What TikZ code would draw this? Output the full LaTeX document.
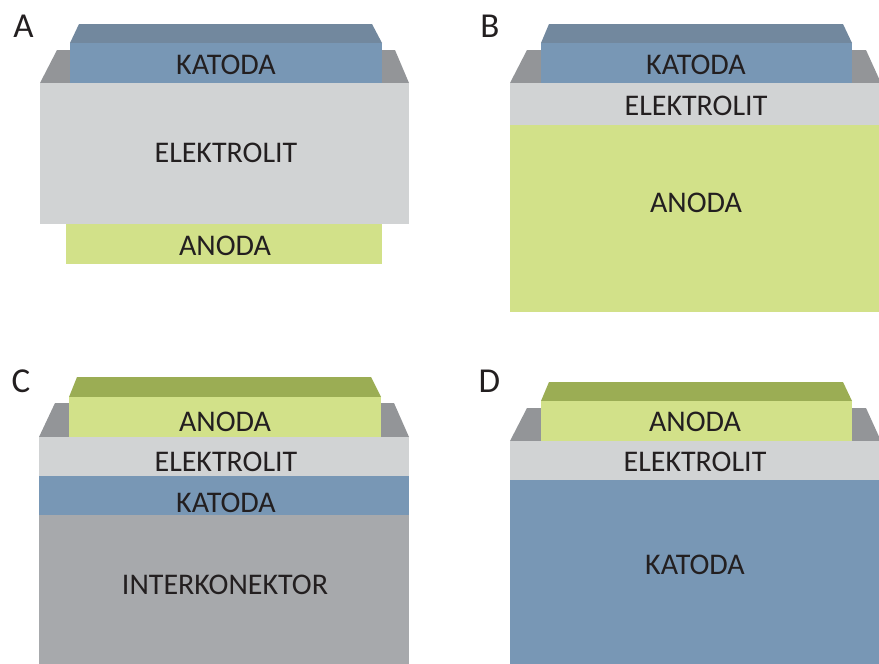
\documentclass[tikz,border=0pt]{standalone}
\usepackage{fontspec}
\setmainfont{Carlito}
\definecolor{katc}{HTML}{7897B5}
\definecolor{katdark}{HTML}{72889E}
\definecolor{backgray}{HTML}{939598}
\definecolor{elc}{HTML}{D1D3D4}
\definecolor{anc}{HTML}{D2E189}
\definecolor{andark}{HTML}{9BAD54}
\definecolor{intc}{HTML}{A7A9AC}
\definecolor{txt}{HTML}{231F20}
\tikzset{
  lbl/.style={anchor=base, inner sep=0pt, text=txt, font=\fontsize{30}{30}\selectfont},
  panel/.style={anchor=base, inner sep=0pt, text=txt, font=\fontsize{35}{35}\selectfont}
}
\begin{document}
\begin{tikzpicture}[x=1pt,y=-1pt]
\useasboundingbox (0,0) rectangle (879,664);
% ---------- Panel A ----------
\fill[backgray] (40,83) -- (57,50) -- (395,50) -- (409,83) -- cycle;
\fill[katdark] (70,43) -- (79,24) -- (372,24) -- (382,43) -- cycle;
\fill[katc] (70,43) rectangle (382,83);
\fill[elc] (40,83) rectangle (409,224);
\fill[anc] (66,224) rectangle (382,264);
\node[panel] (la) at (23.5,37) {A};
\node[lbl] (akat) at (226,74) {KATODA};
\node[lbl] (ael) at (226,162) {ELEKTROLIT};
\node[lbl] (aan) at (225,255) {ANODA};
% ---------- Panel B ----------
\fill[backgray] (510,83) -- (527,50) -- (866,50) -- (881,83) -- cycle;
\fill[katdark] (541,43) -- (549,24) -- (843,24) -- (852,43) -- cycle;
\fill[katc] (541,43) rectangle (852,83);
\fill[elc] (510,83) rectangle (879,125);
\fill[anc] (510,125) rectangle (879,312);
\node[panel] (lb) at (490,37) {B};
\node[lbl] (bkat) at (696,74) {KATODA};
\node[lbl] (bel) at (696,115) {ELEKTROLIT};
\node[lbl] (ban) at (696,212) {ANODA};
% ---------- Panel C ----------
\fill[backgray] (39,437) -- (55,403) -- (394,403) -- (409,437) -- cycle;
\fill[andark] (69,397) -- (77,377) -- (371,377) -- (381,397) -- cycle;
\fill[anc] (69,397) rectangle (381,437);
\fill[elc] (39,437) rectangle (409,476);
\fill[katc] (39,476) rectangle (409,515);
\fill[intc] (39,515) rectangle (409,664);
\node[panel] (lc) at (21,392) {C};
\node[lbl] (can) at (225,431) {ANODA};
\node[lbl] (cel) at (226,471) {ELEKTROLIT};
\node[lbl] (ckat) at (226,512) {KATODA};
\node[lbl] (cint) at (225,594) {INTERKONEKTOR};
% ---------- Panel D ----------
\fill[backgray] (510,441) -- (527,408) -- (866,408) -- (881,441) -- cycle;
\fill[andark] (541,401) -- (549,382) -- (843,382) -- (852,401) -- cycle;
\fill[anc] (541,401) rectangle (852,441);
\fill[elc] (510,441) rectangle (879,480);
\fill[katc] (510,480) rectangle (879,664);
\node[panel] (ld) at (489.5,392) {D};
\node[lbl] (dan) at (695,431) {ANODA};
\node[lbl] (del) at (695,471) {ELEKTROLIT};
\node[lbl] (dkat) at (695,574) {KATODA};
\end{tikzpicture}
\end{document}
